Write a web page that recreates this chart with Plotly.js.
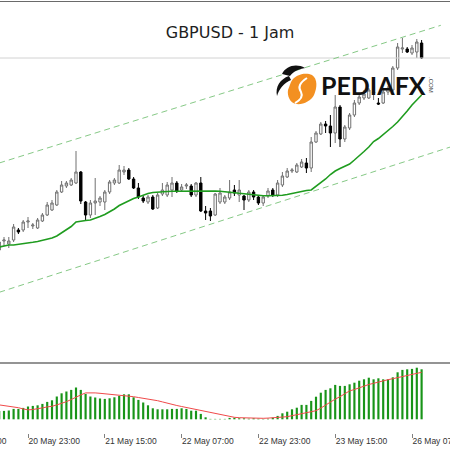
<!DOCTYPE html>
<html><head><meta charset="utf-8">
<script src="https://cdn.plot.ly/plotly-3.0.1.min.js"></script>
<style>html,body{margin:0;padding:0;background:#fff}#chart{width:450px;height:450px}</style>
</head><body><div id="chart"></div>
<script>
// bar index 0 = 20 May 23:00 (H1 bars)
const firstBar = -6;
const openP = [1.3390,1.3399,1.3396,1.3400,1.3410,1.3410,1.3418,1.3414,1.3412,1.3419,1.3425,1.3430,1.3435,1.3448,1.3454,1.3455,1.3457,1.3468,1.3438,1.3425,1.3437,1.3438,1.3438,1.3448,1.3457,1.3457,1.3468,1.3470,1.3461,1.3452,1.3442,1.3438,1.3443,1.3432,1.3446,1.3445,1.3450,1.3457,1.3450,1.3454,1.3454,1.3445,1.3457,1.3429,1.3429,1.3425,1.3438,1.3438,1.3442,1.3450,1.3445,1.3444,1.3440,1.3448,1.3443,1.3437,1.3444,1.3450,1.3445,1.3455,1.3463,1.3469,1.3468,1.3473,1.3477,1.3472,1.3498,1.3506,1.3516,1.3514,1.3507,1.3533,1.3501,1.3512,1.3525,1.3537,1.3542,1.3542,1.3547,1.3537,1.3537,1.3548,1.3550,1.3572,1.3591,1.3591,1.3587,1.3588,1.3597];
const highP = [1.3402,1.3403,1.3403,1.3416,1.3412,1.3420,1.3423,1.3417,1.3422,1.3427,1.3438,1.3440,1.3450,1.3459,1.3459,1.3462,1.3489,1.3469,1.3439,1.3440,1.3462,1.3444,1.3450,1.3460,1.3462,1.3475,1.3474,1.3472,1.3463,1.3457,1.3444,1.3445,1.3445,1.3447,1.3457,1.3458,1.3463,1.3459,1.3456,1.3457,1.3456,1.3458,1.3463,1.3434,1.3432,1.3447,1.3452,1.3445,1.3460,1.3455,1.3460,1.3445,1.3450,1.3450,1.3445,1.3444,1.3452,1.3452,1.3460,1.3468,1.3472,1.3472,1.3477,1.3481,1.3482,1.3503,1.3509,1.3518,1.3519,1.3525,1.3545,1.3535,1.3515,1.3527,1.3540,1.3546,1.3550,1.3552,1.3554,1.3542,1.3550,1.3554,1.3574,1.3597,1.3602,1.3593,1.3595,1.3601,1.3600];
const lowP = [1.3386,1.3394,1.3392,1.3398,1.3406,1.3408,1.3412,1.3411,1.3411,1.3418,1.3424,1.3429,1.3434,1.3447,1.3452,1.3454,1.3456,1.3436,1.3420,1.3422,1.3425,1.3434,1.3430,1.3446,1.3455,1.3456,1.3465,1.3460,1.3451,1.3441,1.3437,1.3436,1.3430,1.3431,1.3444,1.3443,1.3443,1.3447,1.3448,1.3451,1.3443,1.3443,1.3428,1.3420,1.3419,1.3424,1.3436,1.3436,1.3440,1.3444,1.3438,1.3430,1.3438,1.3440,1.3435,1.3434,1.3442,1.3443,1.3443,1.3453,1.3462,1.3467,1.3467,1.3472,1.3467,1.3468,1.3497,1.3505,1.3507,1.3493,1.3497,1.3493,1.3498,1.3510,1.3523,1.3535,1.3540,1.3541,1.3540,1.3535,1.3536,1.3545,1.3548,1.3570,1.3587,1.3587,1.3585,1.3582,1.3581];
const closeP = [1.3398,1.3400,1.3399,1.3413,1.3408,1.3418,1.3419,1.3415,1.3420,1.3425,1.3435,1.3437,1.3448,1.3455,1.3457,1.3460,1.3468,1.3439,1.3425,1.3437,1.3439,1.3442,1.3448,1.3458,1.3460,1.3470,1.3470,1.3461,1.3452,1.3443,1.3439,1.3443,1.3431,1.3445,1.3450,1.3455,1.3457,1.3449,1.3453,1.3455,1.3445,1.3457,1.3429,1.3427,1.3424,1.3446,1.3447,1.3443,1.3448,1.3447,1.3450,1.3440,1.3448,1.3443,1.3437,1.3443,1.3449,1.3445,1.3457,1.3464,1.3469,1.3470,1.3475,1.3478,1.3472,1.3498,1.3507,1.3516,1.3514,1.3507,1.3533,1.3501,1.3513,1.3525,1.3537,1.3543,1.3546,1.3550,1.3548,1.3536,1.3548,1.3552,1.3572,1.3593,1.3592,1.3588,1.3592,1.3598,1.3582];
const maLine = [1.33930,1.33940,1.33950,1.33950,1.33955,1.33960,1.33970,1.33977,1.33985,1.33995,1.34007,1.34020,1.34040,1.34070,1.34100,1.34135,1.34180,1.34190,1.34195,1.34200,1.34215,1.34235,1.34255,1.34280,1.34310,1.34345,1.34370,1.34390,1.34415,1.34430,1.34450,1.34465,1.34475,1.34480,1.34482,1.34485,1.34487,1.34488,1.34490,1.34490,1.34490,1.34490,1.34490,1.34490,1.34490,1.34490,1.34487,1.34482,1.34475,1.34470,1.34465,1.34460,1.34455,1.34450,1.34445,1.34443,1.34443,1.34443,1.34444,1.34448,1.34455,1.34465,1.34477,1.34490,1.34495,1.34500,1.34535,1.34570,1.34610,1.34655,1.34690,1.34715,1.34735,1.34760,1.34800,1.34840,1.34885,1.34930,1.34985,1.35015,1.35055,1.35090,1.35135,1.35180,1.35230,1.35290,1.35350,1.35400,1.35450];
const macdHist = [0.00042,0.00042,0.00044,0.00052,0.00052,0.00057,0.00064,0.00067,0.00070,0.00077,0.00087,0.00095,0.00114,0.00130,0.00139,0.00147,0.00159,0.00147,0.00127,0.00114,0.00109,0.00104,0.00102,0.00105,0.00110,0.00117,0.00125,0.00125,0.00110,0.00097,0.00084,0.00070,0.00055,0.00050,0.00050,0.00050,0.00052,0.00052,0.00055,0.00052,0.00043,0.00043,0.00027,0.00010,0.00002,0.00002,0.00002,0.00002,0.00007,0.00008,0.00005,0.00005,0.00003,0.00005,0.00003,0.00002,0.00003,0.00008,0.00017,0.00030,0.00038,0.00050,0.00058,0.00072,0.00072,0.00092,0.00113,0.00133,0.00147,0.00155,0.00172,0.00167,0.00167,0.00175,0.00183,0.00193,0.00200,0.00208,0.00200,0.00205,0.00200,0.00200,0.00210,0.00235,0.00247,0.00250,0.00252,0.00258,0.00250];
const macdSignal = [0.00072,0.00069,0.00067,0.00063,0.00058,0.00052,0.00047,0.00049,0.00052,0.00057,0.00062,0.00065,0.00072,0.00079,0.00088,0.00099,0.00112,0.00122,0.00132,0.00133,0.00132,0.00130,0.00128,0.00125,0.00123,0.00121,0.00118,0.00116,0.00113,0.00109,0.00105,0.00102,0.00099,0.00093,0.00087,0.00080,0.00074,0.00069,0.00064,0.00059,0.00054,0.00050,0.00046,0.00041,0.00035,0.00028,0.00023,0.00018,0.00013,0.00010,0.00008,0.00007,0.00005,0.00005,0.00005,0.00005,0.00006,0.00007,0.00008,0.00010,0.00013,0.00018,0.00023,0.00028,0.00033,0.00038,0.00043,0.00056,0.00072,0.00089,0.00101,0.00113,0.00129,0.00142,0.00149,0.00158,0.00167,0.00174,0.00180,0.00187,0.00193,0.00198,0.00203,0.00208,0.00213,0.00219,0.00225,0.00231,0.00235];
const upperChannelBars = [-6, 86];
const upperChannelPrices = [1.34770, 1.36147];
const lowerChannelBars = [-6, 88];
const lowerChannelPrices = [1.33477, 1.34930];
const levelBars = [-8, 90];
const levelPrices = [1.3582, 1.3582];
const tickBars = [-16, 0, 16, 32, 48, 64, 80];
const tickLabels = ["20 May 07:00","20 May 23:00","21 May 15:00","22 May 07:00","22 May 23:00","23 May 15:00","26 May 07:00"];
const chartTitle = "GBPUSD - 1 Jam";

const W = 450, H = 450;
const bars = openP.map((_, k) => firstBar + k);
const px = x => x / W, py = y => 1 - y / H;
function pathOf(cmds){ // pixel path -> paper path
  return cmds.map(c => {
    if (typeof c === 'string') return c;
    return (px(c[0]).toFixed(4)) + ',' + (py(c[1]).toFixed(4));
  }).join(' ');
}

const traces = [
  {type:'scatter', mode:'lines', x:levelBars, y:levelPrices, xaxis:'x', yaxis:'y',
   line:{color:'#d2d2d2', width:1}, hoverinfo:'skip'},
  {type:'scatter', mode:'lines', x:upperChannelBars, y:upperChannelPrices, xaxis:'x', yaxis:'y',
   line:{color:'#86c986', width:1, dash:'6px,4px'}, hoverinfo:'skip'},
  {type:'scatter', mode:'lines', x:lowerChannelBars, y:lowerChannelPrices, xaxis:'x', yaxis:'y',
   line:{color:'#86c986', width:1, dash:'6px,4px'}, hoverinfo:'skip'},
  {type:'scatter', mode:'lines', x:bars, y:maLine, xaxis:'x', yaxis:'y',
   line:{color:'#1f9c1f', width:1.6}, hoverinfo:'skip'},
  {type:'candlestick', x:bars, open:openP, high:highP, low:lowP, close:closeP, xaxis:'x', yaxis:'y',
   increasing:{line:{color:'#707070', width:1}, fillcolor:'#ffffff'},
   decreasing:{line:{color:'#000000', width:1}, fillcolor:'#000000'},
   whiskerwidth:0, hoverinfo:'skip'},
  {type:'bar', x:bars, y:macdHist, xaxis:'x', yaxis:'y2', width:0.45,
   marker:{color:'#189418', line:{width:0}}, hoverinfo:'skip'},
  {type:'scatter', mode:'lines', x:bars, y:macdSignal, xaxis:'x', yaxis:'y2',
   line:{color:'#f04a4a', width:1}, hoverinfo:'skip'}
];

const x0 = (0 - 28) / 4.8, x1 = (450 - 28) / 4.8;
const layout = {
  width: W, height: H, margin:{l:0, r:0, t:0, b:0},
  paper_bgcolor:'#ffffff', plot_bgcolor:'#ffffff', showlegend:false, dragmode:false,
  title:{text:chartTitle, x:230/W, xanchor:'center', y:1-32/H, yanchor:'middle', yref:'container',
         font:{family:'DejaVu Sans', size:16, color:'#1e1e1e'}},
  xaxis:{range:[x0, x1], anchor:'y2', showgrid:false, zeroline:false, showline:false,
         tickvals:tickBars, ticktext:tickLabels, ticks:'outside', ticklen:4, tickcolor:'#808080',
         ticklabelposition:'outside right', ticklabeloverflow:'allow',
         tickfont:{family:'Liberation Sans', size:8.5, color:'#333333'},
         rangeslider:{visible:false}, fixedrange:true},
  yaxis:{domain:[1-362/H, 1], range:[1.3640-0.0362, 1.3640], showgrid:false, zeroline:false,
         showticklabels:false, showline:false, fixedrange:true},
  yaxis2:{domain:[1-433/H, 1-364/H], range:[-0.000685, 0.002765], showgrid:false, zeroline:false,
          showticklabels:false, showline:false, fixedrange:true},
  shapes:[
    {type:'line', xref:'paper', yref:'paper', x0:0, x1:1, y0:py(1.5), y1:py(1.5), line:{color:'#6a6a6a', width:1.2}},
    {type:'line', xref:'paper', yref:'paper', x0:0, x1:1, y0:py(363), y1:py(363), line:{color:'#707070', width:1.5}},
    {type:'path', xref:'paper', yref:'paper', layer:'above', line:{width:0}, fillcolor:'#f39021',
     path: pathOf(['M',[291,82],'C',[295,74],[306,72],[312,75],'C',[318,79],[317,88],[314,95],'C',[311,101],[303,105],[296,104],'C',[290,103],[287,96],[288,90],'Z'])},
    {type:'path', xref:'paper', yref:'paper', layer:'above', line:{color:'#ffffff', width:2},
     path: pathOf(['M',[307,78],'Q',[296,85],[301,92],'Q',[304,98],[295,103]])},
    {type:'path', xref:'paper', yref:'paper', layer:'above', line:{width:0}, fillcolor:'#111111',
     path: pathOf(['M',[282,74],'C',[286,66],[296,63],[305,68],'C',[299,69],[294,71],[290,76],'Z'])},
    {type:'path', xref:'paper', yref:'paper', layer:'above', line:{width:0}, fillcolor:'#111111',
     path: pathOf(['M',[289,76],'C',[280,79],[275,87],[277,96],'C',[279,89],[284,83],[291,80],'Z'])}
  ],
  annotations:[
    {xref:'paper', yref:'paper', x:px(319), y:py(85.5), xanchor:'left', yanchor:'middle', showarrow:false,
     text:'PEDIAFX', font:{family:'Lato', size:25, weight:'bold', color:'#111111'}},
    {xref:'paper', yref:'paper', x:px(431), y:py(85), xanchor:'center', yanchor:'middle', showarrow:false,
     text:'.COM', textangle:90, font:{family:'Liberation Sans', size:6, color:'#444444'}},
    {xref:'paper', yref:'paper', x:px(28 + tickBars[0]*4.8 + 2), y:py(441), xanchor:'left', yanchor:'middle', showarrow:false,
     text:tickLabels[0], font:{family:'Liberation Sans', size:8.5, color:'#333333'}}
  ]
};
Plotly.newPlot('chart', traces, layout, {staticPlot:true, displayModeBar:false});
</script></body></html>
